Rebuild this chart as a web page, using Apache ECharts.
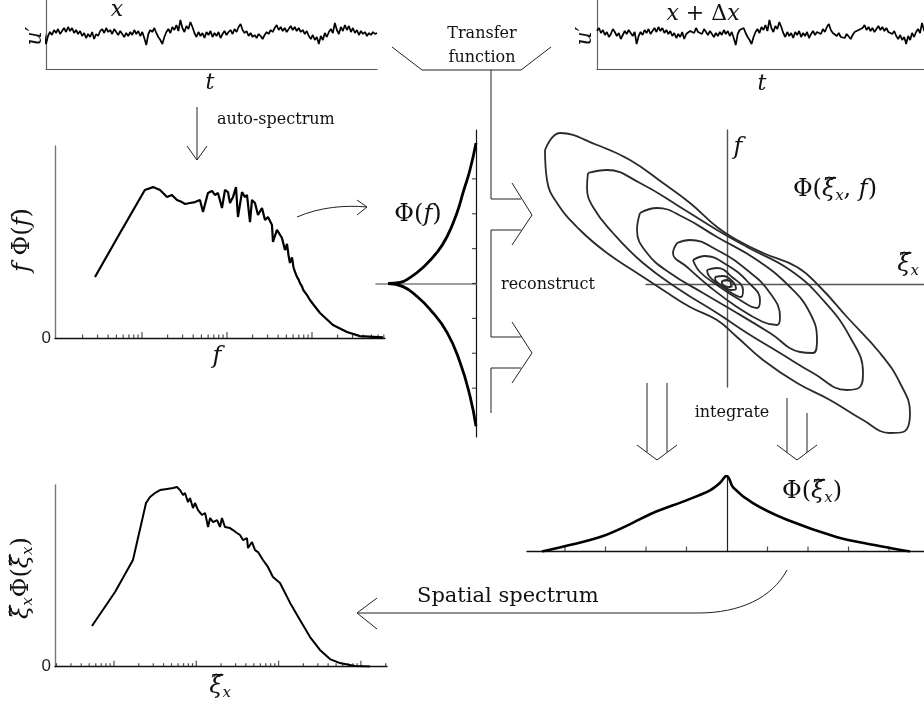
<!DOCTYPE html>
<html>
<head>
<meta charset="utf-8">
<script src="https://cdn.jsdelivr.net/npm/echarts@6/dist/echarts.min.js"></script>
<style>html,body{margin:0;padding:0;background:#fff}#chart{width:924px;height:710px}</style>
</head>
<body>
<div id="chart"></div>
<script>
// Velocity signal u'(t); the upstream probe (x) sees samples 20..185,
// the downstream probe (x + dx) sees the same structures delayed (samples 0..165).
const uPrime = [3,6,1,4,-1,2,-3,0,5,2,-2,1,-5,-1,3,0,4,1,-2,2,
  -10,-2,2,-1,4,1,5,0,3,6, 2,7,3,6,1,4,0,3,-2,1, -4,0,-3,2,-5,0,-2,3,5,1,
  6,2,4,0,5,2,-1,3,0,-3, 1,-2,2,-1,4,0,3,-2,2,-4, -11,0,4,2,6,1,-3,-6,-10,-3,
  2,5,1,7,4,9,3,14,6,2, 8,5,12,7,1,-3,2,-2,1,-4, 2,-1,3,-3,1,-2,2,-4,0,3,
  -1,2,4,0,5,2,7,10,4,1, 3,-2,1,-3,-1,-4,0,-2,-5,-1, 2,0,4,2,6,9,4,7,3,6,
  2,5,8,4,7,3,6,2,4,0, 3,-2,-5,-1,-6,-3,-10,-2,-6,1, -3,2,5,1,11,4,0,7,3,9,
  4,8,2,6,1,4,-1,3,0,2, -2,1,-1,2,0,1];

// Premultiplied auto-spectrum f*Phi(f)
const specF = [2.80,5.51,10.8,13.5,16.3,19.7,22.5,25.8,29.5,32.1,36.7,42.0,48.1,52.2,59.7,
  66.6,72.2,78.3,87.3,94.7,102.8,108.4,117.7,127.6,134.6,150.1,162.8,171.8,186.5,196.8,
  213.5,231.5,258.2,280.0,303.7,338.2,347.5,387.5,443.7,462,481.3,508.0,530,550.7,582,605,631,666,694,
  722.6,760,790,827.6,870,946.8,1050,1242,1766,2582,3671,6842];
const specV = [0.318,0.547,0.771,0.786,0.771,0.734,0.745,0.719,0.708,0.698,0.703,0.708,0.719,0.656,0.755,
  0.766,0.745,0.755,0.677,0.771,0.760,0.703,0.734,0.786,0.630,0.760,0.734,0.745,0.604,0.719,
  0.703,0.641,0.677,0.615,0.630,0.589,0.500,0.563,0.521,0.490,0.458,0.490,0.430,0.391,0.420,0.370,0.344,0.318,0.305,
  0.286,0.270,0.250,0.240,0.225,0.198,0.172,0.130,0.068,0.031,0.010,0.003];
const specMajorTicks = [10,100,1000];
const specMinorTicks = [2,3,4,5,6,7,8,9,20,30,40,50,60,70,80,90,200,300,400,500,600,700,800,900,2000,3000,4000,5000,6000,7000];

// Transfer-function phase Phi(f): [phase, f]
const phaseUpper = [[8.8,0],[7.6,0.03],[6.6,0.17],[5.3,0.46],[3.9,0.89],[2.9,1.34],[1.9,2.03],[1.3,2.6],[0.6,3.26],[0,4.03]];
const phaseLower = [[8.8,0],[7.3,-0.09],[5.9,-0.37],[4.6,-0.74],[2.9,-1.4],[1.6,-2.26],[0.6,-3.23],[0,-4.09]];
const phaseTicks = [-3,-2,-1,0,1,2,3];

// Reconstructed wavenumber-frequency spectrum Phi(xi, f): iso-contours [xi, f]
const contour1 = [[-182,134],[-167,151],[-130,139],[-97,124],[-64,101],[-37,81],[-10,57],[10,44],[36,31],[70,17],[93,-3],[120,-33],[153,-69],[173,-99],[183,-129],[176,-148],[163,-149],[136,-136],[103,-116],[70,-99],[36,-76],[10,-53],[-10,-36],[-37,-23],[-64,-6],[-90,11],[-120,31],[-147,54],[-170,81],[-180,104],[-182,134]];
const contour2 = [[-139,111],[-120,114],[-87,101],[-47,77],[-10,54],[20,37],[63,14],[96,-16],[123,-53],[136,-89],[133,-103],[120,-106],[86,-89],[53,-69],[20,-49],[-10,-29],[-47,-6],[-84,21],[-114,51],[-134,77],[-140,97],[-139,111]];
const contour3 = [[-87,71],[-70,76],[-44,67],[-10,47],[30,24],[63,-3],[83,-29],[90,-56],[86,-69],[73,-68],[43,-49],[10,-29],[-24,-9],[-57,11],[-80,31],[-90,54],[-87,71]];
const contour4 = [[-50,41],[-37,44],[-10,34],[20,14],[43,-9],[53,-33],[50,-41],[36,-38],[10,-23],[-17,-3],[-40,17],[-54,31],[-50,41]];
const contour5 = [[-34,24],[-22,28],[0,19],[21,2],[33,-16],[30,-24],[13,-16],[-10,-1],[-27,12],[-34,24]];
const contour6 = [[-20,14],[-10,16],[5,7],[16,-6],[14,-13],[3,-8],[-10,1],[-18,8],[-20,14]];
const contour7 = [[-12,7],[-4,8],[6,2],[9,-5],[4,-6],[-4,-2],[-11,3],[-12,7]];
const contour8 = [[-5,3],[0,4],[4,0],[3,-3],[-2,-2],[-5,1],[-5,3]];
const contours = [contour1, contour2, contour3, contour4, contour5, contour6, contour7, contour8];
const contourPeak = [[0, 0]];

// Frequency-integrated spectrum Phi(xi)
const phiXi = [-4.57,-3.8,-3.06,-2.4,-1.83,-0.99,-0.42,-0.17,-0.05,0,0.05,0.15,0.64,1.48,2.72,3.6,4.52];
const phiXiV = [0,0.095,0.205,0.36,0.51,0.68,0.81,0.91,0.99,1.0,0.97,0.85,0.64,0.42,0.19,0.09,0];
const phiXiTicks = [-4,-3,-2,-1,1,2,3,4];

// Premultiplied spatial spectrum xi*Phi(xi)
const xiK = [0.540,1.03,1.70,2.45,2.74,3.15,3.62,4.41,5.21,5.83,6.34,6.89,7.29,7.93,8.38,9.12,9.64,10.5,11.7,12.8,
  13.9,14.7,16.0,17.9,19.4,20.5,22.3,25.7,27.9,31.2,34.0,36.9,41.3,42.5,47.5,51.7,56.2,64.6,74.2,85.4,
  104,138,182,241,318,421,557,848,1291];
const xiV = [0.224,0.411,0.587,0.901,0.934,0.956,0.972,0.978,0.983,0.989,0.972,0.945,0.956,0.906,0.928,0.873,0.901,0.862,0.835,0.846,
  0.769,0.818,0.796,0.807,0.769,0.818,0.769,0.763,0.752,0.736,0.725,0.697,0.708,0.653,0.686,0.642,0.631,0.587,0.549,0.494,
  0.461,0.351,0.257,0.163,0.092,0.042,0.020,0.004,0.001];
const xiMajorTicks = [1,10,100,1000];
const xiMinorTicks = [0.2,0.3,0.4,0.5,0.6,0.7,0.8,0.9,2,3,4,5,6,7,8,9,20,30,40,50,60,70,80,90,200,300,400,500,600,700,800,900,2000];

const SERIF = "'DejaVu Serif', 'Liberation Serif', serif";
const INK = '#111';

function valAxis(extra) {
  return Object.assign({
    type: 'value', axisTick: { show: false }, axisLabel: { show: false },
    splitLine: { show: false }, axisLine: { show: false }
  }, extra);
}
function line(color, width, onZero) {
  return { show: true, onZero: onZero, lineStyle: { color: color, width: width } };
}
function tickSeries(xi, yi, values, base, size, offset) {
  return {
    type: 'scatter', xAxisIndex: xi, yAxisIndex: yi, silent: true,
    symbol: 'rect', symbolSize: size, symbolOffset: offset,
    itemStyle: { color: '#222' },
    data: values.map(v => base(v))
  };
}
function curve(xi, yi, data, width, smooth, color) {
  return {
    type: 'line', xAxisIndex: xi, yAxisIndex: yi, data: data, showSymbol: false,
    smooth: smooth, silent: true,
    lineStyle: { color: color || '#000', width: width }
  };
}

function rich(size) {
  return {
    i: { fontFamily: SERIF, fontStyle: 'italic', fontSize: size, fill: INK, color: INK },
    r: { fontFamily: SERIF, fontSize: size, fill: INK, color: INK },
    s: { fontFamily: SERIF, fontStyle: 'italic', fontSize: Math.round(size * 0.62), fill: INK, color: INK, padding: [Math.round(size * 0.5), 0, 0, 0] }
  };
}
function mathText(x, y, text, size, rotation) {
  return {
    type: 'text', x: x, y: y, rotation: rotation || 0, silent: true,
    style: {
      text: text, fontFamily: SERIF, fontSize: size, fill: INK,
      align: 'center', verticalAlign: 'middle', textAlign: 'center', textVerticalAlign: 'middle',
      rich: rich(size)
    }
  };
}
function plainText(x, y, text, size, align) {
  return {
    type: 'text', x: x, y: y, silent: true,
    style: {
      text: text, fontFamily: SERIF, fontSize: size, fill: INK,
      align: align || 'center', verticalAlign: 'middle',
      textAlign: align || 'center', textVerticalAlign: 'middle'
    }
  };
}
function poly(points) {
  return { type: 'polyline', silent: true, shape: { points: points }, style: { stroke: '#222', lineWidth: 1, fill: null } };
}
function bezier(x1, y1, cx1, cy1, cx2, cy2, x2, y2) {
  return { type: 'bezierCurve', silent: true,
    shape: { x1: x1, y1: y1, cpx1: cx1, cpy1: cy1, cpx2: cx2, cpy2: cy2, x2: x2, y2: y2 },
    style: { stroke: '#222', lineWidth: 1, fill: null } };
}

const zeroLabel = {
  show: true, margin: 4, fontSize: 17, color: '#222', fontFamily: "'Liberation Sans', Arial, sans-serif",
  formatter: v => (v === 0 ? '0' : '')
};

const option = {
  animation: false,
  backgroundColor: '#fff',
  grid: [
    { left: 46, top: 0, width: 331, height: 69 },        // 0: u' at x
    { left: 597, top: 0, width: 331, height: 69 },       // 1: u' at x + dx
    { left: 55, top: 146, width: 330, height: 192 },     // 2: f Phi(f)
    { left: 376, top: 130, width: 100, height: 307 },    // 3: phase Phi(f)
    { left: 646, top: 130, width: 278, height: 257 },    // 4: Phi(xi, f) axes
    { left: 527, top: 476, width: 397, height: 75.5 },   // 5: Phi(xi)
    { left: 55, top: 485, width: 332, height: 181.7 },   // 6: xi Phi(xi)
    { left: 537, top: 120, width: 387, height: 330 }     // 7: Phi(xi, f) contours, same scale as 4
  ],
  xAxis: [
    valAxis({ gridIndex: 0, min: 20, max: 185, axisLine: line('#555', 1.2, false) }),
    valAxis({ gridIndex: 1, min: 0, max: 165, axisLine: line('#555', 1.2, false) }),
    valAxis({ gridIndex: 2, type: 'log', logBase: 10, min: 0.947, max: 7230, axisLine: line('#111', 1.3, false) }),
    valAxis({ gridIndex: 3, min: 0, max: 10, inverse: true, axisLine: line('#808080', 1.6, true) }),
    valAxis({ gridIndex: 4, min: -81, max: 197, axisLine: line('#555', 1.4, true) }),
    valAxis({ gridIndex: 5, min: -4.938, max: 4.864, axisLine: line('#111', 1.3, false) }),
    valAxis({ gridIndex: 6, type: 'log', logBase: 10, min: 0.192, max: 2075, axisLine: line('#111', 1.3, false) }),
    valAxis({ gridIndex: 7, min: -190, max: 197 })
  ],
  yAxis: [
    valAxis({ gridIndex: 0, min: -35, max: 34, axisLine: line('#666', 1.2, false) }),
    valAxis({ gridIndex: 1, min: -35, max: 34, axisLine: line('#666', 1.2, false) }),
    valAxis({ gridIndex: 2, min: 0, max: 1, interval: 1, axisLine: line('#777', 1.4, false), axisLabel: zeroLabel }),
    valAxis({ gridIndex: 3, min: -4.4, max: 4.4, position: 'right', axisLine: line('#111', 1.2, false) }),
    valAxis({ gridIndex: 4, min: -103, max: 154, axisLine: line('#555', 1.4, true) }),
    valAxis({ gridIndex: 5, min: 0, max: 1, axisLine: line('#222', 1.2, true) }),
    valAxis({ gridIndex: 6, min: 0, max: 1, interval: 1, axisLine: line('#777', 1.4, false), axisLabel: zeroLabel }),
    valAxis({ gridIndex: 7, min: -166, max: 164 })
  ],
  series: [
    curve(0, 0, uPrime.map((v, i) => [i, v]), 1.7, false),
    curve(1, 1, uPrime.map((v, i) => [i, v]), 1.7, false),

    curve(2, 2, specF.map((f, i) => [f, specV[i]]), 2.2, false),
    tickSeries(2, 2, specMajorTicks, v => [v, 0], [1.2, 6], [0, '-50%']),
    tickSeries(2, 2, specMinorTicks, v => [v, 0], [1.2, 3.5], [0, '-50%']),

    curve(3, 3, phaseUpper, 2.8, 0.5),
    curve(3, 3, phaseLower, 2.8, 0.5),
    tickSeries(3, 3, phaseTicks, v => [0, v], [4, 1.2], ['-50%', 0]),

    ...contours.map(c => curve(7, 7, c, 1.8, 0.45, '#2a2a2a')),
    {
      type: 'scatter', xAxisIndex: 7, yAxisIndex: 7, silent: true, data: contourPeak,
      symbol: 'rect', symbolSize: [10, 6],
      itemStyle: { color: '#fff', borderColor: '#222', borderWidth: 1 }
    },

    curve(5, 5, phiXi.map((x, i) => [x, phiXiV[i]]), 2.6, 0.3),
    tickSeries(5, 5, phiXiTicks, v => [v, 0], [1.2, 5], [0, '-50%']),

    curve(6, 6, xiK.map((k, i) => [k, xiV[i]]), 2, false),
    tickSeries(6, 6, xiMajorTicks, v => [v, 0], [1.2, 6], [0, '-50%']),
    tickSeries(6, 6, xiMinorTicks, v => [v, 0], [1.2, 3.5], [0, '-50%'])
  ],
  graphic: [
    // time-series labels
    mathText(117, 10, '{i|x}', 22),
    mathText(35, 36, '{i|u}{r|′}', 22, Math.PI / 2),
    mathText(210, 83, '{i|t}', 22),
    mathText(703, 14, '{i|x}{r| + Δ}{i|x}', 22),
    mathText(585, 36, '{i|u}{r|′}', 22, Math.PI / 2),
    mathText(762, 84, '{i|t}', 22),

    // transfer-function bracket
    plainText(482, 34, 'Transfer', 16),
    plainText(482, 58, 'function', 16),
    poly([[392, 47], [422, 70], [521, 70], [551, 47]]),
    poly([[491, 70], [491, 199], [521, 199]]),
    poly([[512, 183], [532, 215], [512, 245]]),
    poly([[521, 230], [491, 230], [491, 337], [521, 337]]),
    poly([[512, 322], [532, 353], [512, 383]]),
    poly([[521, 368], [491, 368], [491, 413]]),
    plainText(501, 285, 'reconstruct', 16, 'left'),

    // auto-spectrum arrow
    poly([[197, 107], [197, 160]]),
    poly([[187, 146], [197, 160], [207, 146]]),
    plainText(217, 120, 'auto-spectrum', 16, 'left'),

    // f Phi(f) panel labels
    mathText(23, 240, '{i|f}{r| Φ(}{i|f}{r|)}', 24, Math.PI / 2),
    mathText(217, 357, '{i|f}', 24),

    // arrow to the phase plot
    bezier(297, 217, 320, 207, 345, 205, 367, 207),
    poly([[357, 200], [367, 207], [357, 215]]),
    mathText(418, 215, '{r|Φ(}{i|f}{r|)}', 24),

    // contour panel labels
    mathText(738, 148, '{i|f}', 24),
    mathText(835, 190, '{r|Φ(}{i|ξ̃}{s|x}{r|, }{i|f}{r|)}', 24),
    mathText(908, 265, '{i|ξ̃}{s|x}', 24),

    // integrate arrows
    poly([[647, 383], [647, 452]]),
    poly([[667, 383], [667, 452]]),
    poly([[637, 445], [657, 460], [677, 445]]),
    poly([[787, 398], [787, 452.5]]),
    poly([[807, 413], [807, 452.5]]),
    poly([[777, 445], [797, 460], [817, 445]]),
    plainText(732, 413, 'integrate', 16),
    mathText(812, 492, '{r|Φ(}{i|ξ̃}{s|x}{r|)}', 24),

    // spatial spectrum arrow
    poly([[357, 613], [698, 613]]),
    bezier(698, 613, 740, 613, 772, 598, 787, 570),
    poly([[377, 598], [357, 613], [377, 629]]),
    plainText(417, 597, 'Spatial spectrum', 21, 'left'),

    // xi Phi(xi) panel labels
    mathText(22, 578, '{i|ξ̃}{s|x}{r|Φ(}{i|ξ̃}{s|x}{r|)}', 24, Math.PI / 2),
    mathText(220, 687, '{i|ξ̃}{s|x}', 24)
  ]
};

const chart = echarts.init(document.getElementById('chart'), null, { renderer: 'canvas' });
chart.setOption(option);
</script>
</body>
</html>
